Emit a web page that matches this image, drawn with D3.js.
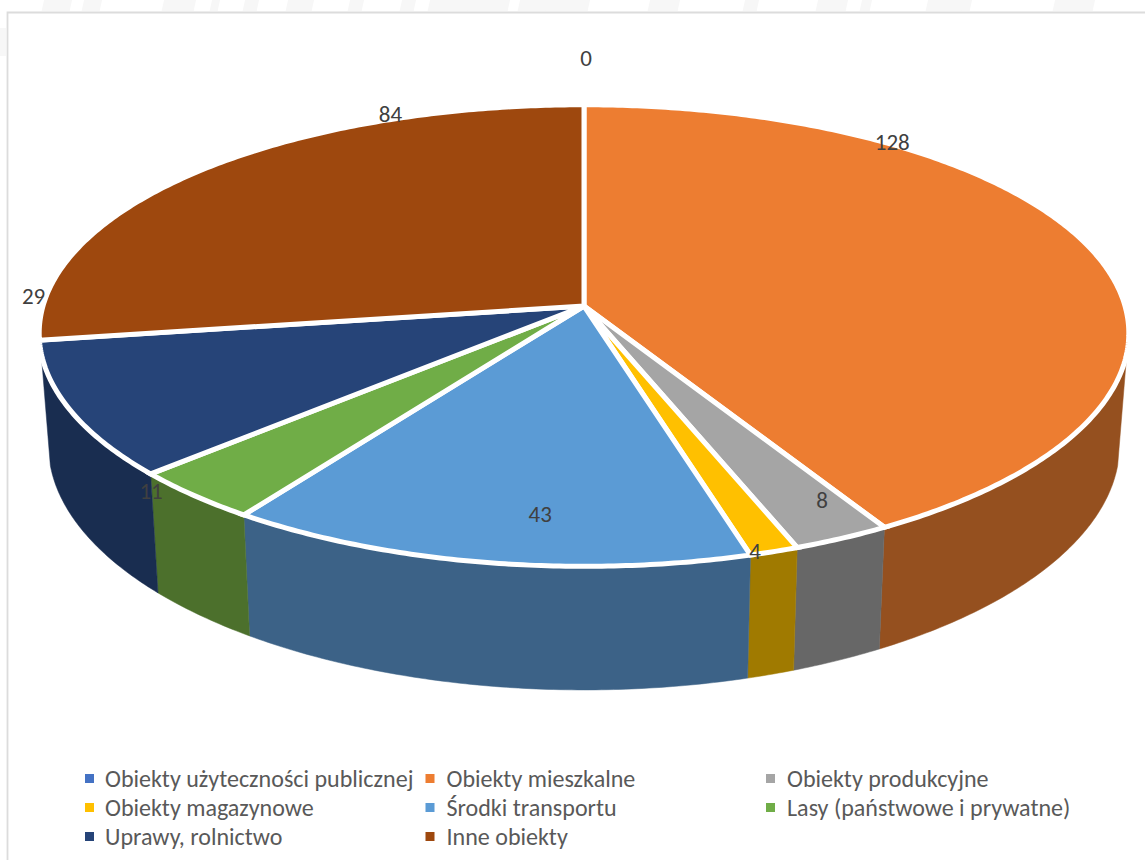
<!DOCTYPE html>
<html><head><meta charset="utf-8">
<script src="https://cdn.jsdelivr.net/npm/d3@7/dist/d3.min.js"></script>
<style>html,body{margin:0;padding:0;background:#fff}svg{display:block}</style>
</head><body><svg id="c" width="1145" height="860"></svg>
<script>
const categories = ["Obiekty użyteczności publicznej","Obiekty mieszkalne","Obiekty produkcyjne","Obiekty magazynowe","Środki transportu","Lasy (państwowe i prywatne)","Uprawy, rolnictwo","Inne obiekty"];
const values = [0,128,8,4,43,11,29,84];
const topColors = ["#4472C4","#ED7D31","#A5A5A5","#FFC000","#5B9BD5","#70AD47","#264478","#9E480E"];
const wallColors = ["#2E4F88","#95501F","#676767","#A07A00","#3C6287","#4C702C","#192D50","#5F2B08"];
// label offset from the slice's projected rim midpoint (layout only)
const labelOffsets = [[2,-47],[-199,-107],[-20,-38],[-19,-1],[56,-48],[-43,-5],[-36,-113],[187,-55]];
// faint scraps of the page watermark showing above the chart frame
const scrapStarts = [44,84,164,212,245,288,350,402,430,470,520,548,650,745,818,862,928,964,1055];
const scrapWidths = [28,18,32,8,14,26,14,14,80,14,70,30,30,14,30,10,40,8,40];

const W=1145,H=860,cx=584,cy=306,a=541,b=227,k=0.128,kx=0.118,zScale=0.983,zDrop=110.6,zY=1.05;
const svg=d3.select("#c");

svg.append("rect").attr("width",W).attr("height",H).attr("fill","#fff");
svg.append("g").selectAll("rect").data(scrapStarts).join("rect")
  .attr("x",d=>d).attr("y",0).attr("width",(d,i)=>scrapWidths[i]).attr("height",11)
  .attr("fill","#f7f7f7").attr("transform","skewX(-12)");
svg.append("line").attr("x1",3).attr("x2",3).attr("y1",28).attr("y2",56).attr("stroke","#f7f7f7").attr("stroke-width",6);
svg.append("path").attr("d",`M7.5,${H}V12.5H${W}`).attr("fill","none").attr("stroke","#dcdcdc").attr("stroke-width",1.8);

// perspective projection of a unit disc: angle measured clockwise from the back
function proj(t){const u=Math.sin(t),v=-Math.cos(t);return [a*u/(1-kx*v),b*v/(1-k*v)];}
const topPt=t=>{const p=proj(t);return [cx+p[0],cy+p[1]];};
const botPt=t=>{const p=proj(t);return [cx+zScale*p[0],cy+zDrop+zY*p[1]];};
const line=d3.line();
const arcAngles=(s,e)=>{const n=Math.max(2,Math.ceil((e-s)/0.01));return d3.range(n+1).map(i=>s+(e-s)*i/n);};

const arcs=d3.pie().sort(null).value(d=>d)(values);

// the walls are only visible on the front of the disc
const wallFrom=Math.PI-Math.acos(0.2), wallTo=Math.PI+Math.acos(0.2);
const wallG=svg.append("g");
arcs.forEach((d,i)=>{ if(d.value===0)return;
  const s=Math.max(d.startAngle,wallFrom), e=Math.min(d.endAngle,wallTo);
  if(e<=s)return;
  const as=arcAngles(s,e);
  wallG.append("path").attr("d",line(as.map(botPt).concat(as.slice().reverse().map(topPt)))+"Z")
    .attr("fill",wallColors[i]).attr("stroke",wallColors[i]).attr("stroke-width",0.5);
});
const topG=svg.append("g");
arcs.forEach((d,i)=>{ if(d.value===0)return;
  const as=arcAngles(d.startAngle,d.endAngle);
  topG.append("path").attr("d",line([[cx,cy]].concat(as.map(topPt)))+"Z")
    .attr("fill",topColors[i]).attr("stroke","#fff").attr("stroke-width",5).attr("stroke-linejoin","miter");
});

const font="Carlito, Calibri, 'Open Sans', sans-serif";
svg.append("g").selectAll("text").data(arcs).join("text")
  .attr("x",(d,i)=>topPt((d.startAngle+d.endAngle)/2)[0]+labelOffsets[i][0])
  .attr("y",(d,i)=>topPt((d.startAngle+d.endAngle)/2)[1]+labelOffsets[i][1])
  .attr("text-anchor","middle").attr("dominant-baseline","central")
  .attr("font-family",font).attr("font-size",23).attr("fill","#404040").text(d=>d.value);

const colX=d3.scalePoint().domain([0,1,2]).range([85,766]);
const rowY=d3.scalePoint().domain([0,1,2]).range([778,836]);
const leg=svg.append("g").selectAll("g").data(categories).join("g")
  .attr("transform",(d,i)=>`translate(${colX(i%3)},${rowY(Math.floor(i/3))})`);
leg.append("rect").attr("x",0).attr("y",-4).attr("width",9).attr("height",9).attr("fill",(d,i)=>topColors[i]);
leg.append("text").attr("x",(d,i)=>i%3===0?20:21).attr("dominant-baseline","central")
  .attr("font-family",font).attr("font-size",24.05).attr("fill","#595959").text(d=>d);
</script></body></html>
